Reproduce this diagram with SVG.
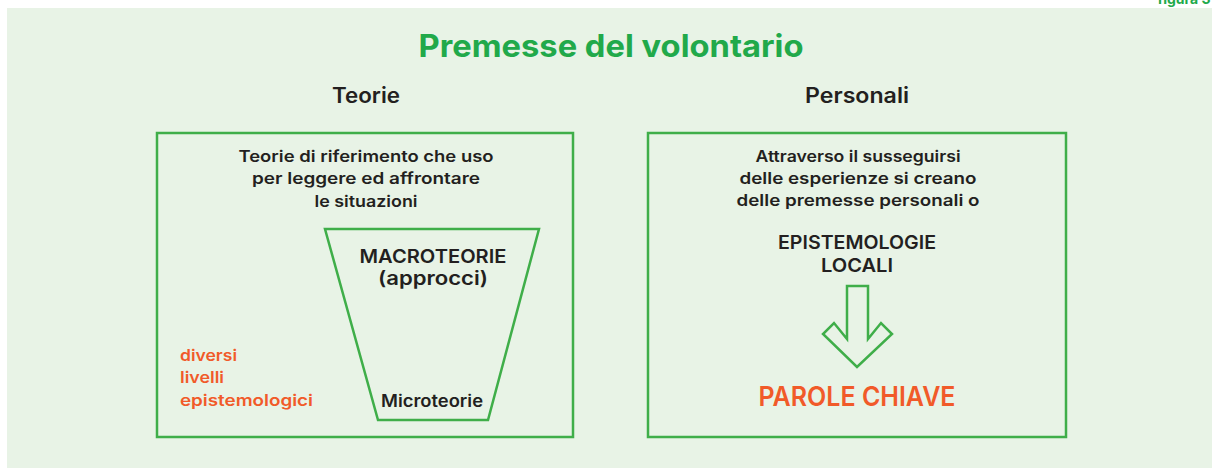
<svg xmlns="http://www.w3.org/2000/svg" width="1212" height="472" viewBox="0 0 1212 472">
<style>
.bg{fill:#e8f3e6}
.box{fill:none;stroke:#3fae49;stroke-width:2.5}
.t{font-family:Inter,"DejaVu Sans",sans-serif;font-weight:600;fill:#231f20;text-anchor:middle}
.body{font-size:16px}
.caps{font-size:19px}
.or{fill:#f15a29}
.title{font-family:Inter,"DejaVu Sans",sans-serif;font-weight:700;fill:#21a94a;text-anchor:middle;font-size:31px}
</style>
<rect width="1212" height="472" fill="#ffffff"/>
<rect class="bg" x="7" y="8" width="1205" height="460"/>
<text class="title" x="1184" y="4" style="font-size:14px">figura 3</text>
<text class="title" x="611" y="57" textLength="385" lengthAdjust="spacingAndGlyphs">Premesse del volontario</text>
<text class="t" x="366" y="103" font-size="21" textLength="68" lengthAdjust="spacingAndGlyphs">Teorie</text>
<text class="t" x="857" y="103" font-size="21" textLength="104" lengthAdjust="spacingAndGlyphs">Personali</text>

<g id="teorie">
<rect class="box" x="157" y="133" width="416" height="304"/>
<text class="t body" x="366" y="162" textLength="255" lengthAdjust="spacingAndGlyphs">Teorie di riferimento che uso</text>
<text class="t body" x="366" y="184" textLength="228" lengthAdjust="spacingAndGlyphs">per leggere ed affrontare</text>
<text class="t body" x="366" y="207" textLength="103" lengthAdjust="spacingAndGlyphs">le situazioni</text>
<text class="t body or" x="180" y="361" style="text-anchor:start" textLength="57" lengthAdjust="spacingAndGlyphs">diversi</text>
<text class="t body or" x="180" y="383" style="text-anchor:start" textLength="44" lengthAdjust="spacingAndGlyphs">livelli</text>
<text class="t body or" x="180" y="406" style="text-anchor:start" textLength="133" lengthAdjust="spacingAndGlyphs">epistemologici</text>
</g>

<g id="imbuto">
<polygon class="box" points="325,229 539,229 488,420 378,420"/>
<text class="t caps" x="433" y="263" textLength="147" lengthAdjust="spacingAndGlyphs">MACROTEORIE</text>
<text class="t caps" x="433" y="285" textLength="110" lengthAdjust="spacingAndGlyphs">(approcci)</text>
<text class="t" x="432" y="407" font-size="17" textLength="102" lengthAdjust="spacingAndGlyphs">Microteorie</text>
</g>

<g id="personali">
<rect class="box" x="648" y="133" width="418" height="304"/>
<text class="t body" x="858" y="162" textLength="205" lengthAdjust="spacingAndGlyphs">Attraverso il susseguirsi</text>
<text class="t body" x="858" y="184" textLength="237" lengthAdjust="spacingAndGlyphs">delle esperienze si creano</text>
<text class="t body" x="858" y="206" textLength="243" lengthAdjust="spacingAndGlyphs">delle premesse personali o</text>
<text class="t caps" x="857" y="249" textLength="158" lengthAdjust="spacingAndGlyphs">EPISTEMOLOGIE</text>
<text class="t caps" x="857" y="272" textLength="72" lengthAdjust="spacingAndGlyphs">LOCALI</text>
<text class="t or" x="857" y="406" font-size="27" textLength="197" lengthAdjust="spacingAndGlyphs">PAROLE CHIAVE</text>
</g>

<g id="connectors">
<polygon class="box" points="847,286 868,286 868,339 881,323 892,334 857,367 823,334 834,323 847,339"/>
</g>
</svg>
